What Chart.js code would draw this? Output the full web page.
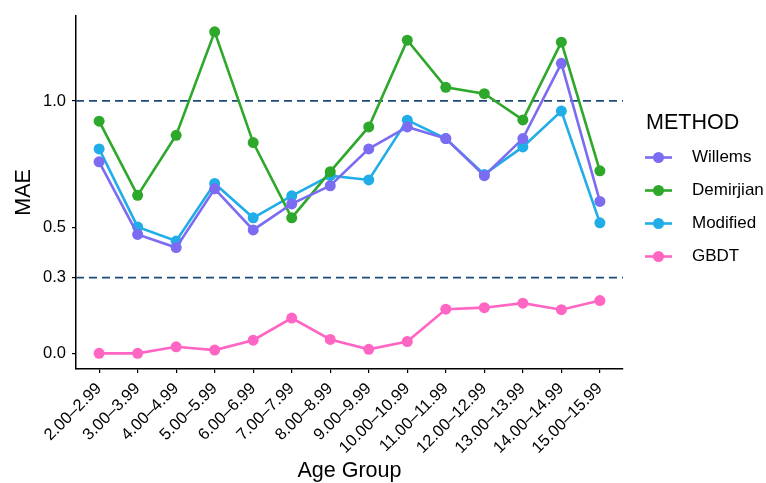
<!DOCTYPE html>
<html>
<head>
<meta charset="utf-8">
<script src="https://cdn.jsdelivr.net/npm/chart.js@4.4.0/dist/chart.umd.min.js"></script>
<style>
html,body{margin:0;padding:0;background:#fff;}
#wrap{width:766px;height:483px;}
</style>
</head>
<body>
<div id="wrap"><canvas id="c" width="766" height="483"></canvas></div>
<script>
const categories = ["2.00–2.99","3.00–3.99","4.00–4.99","5.00–5.99","6.00–6.99","7.00–7.99","8.00–8.99","9.00–9.99","10.00–10.99","11.00–11.99","12.00–12.99","13.00–13.99","14.00–14.99","15.00–15.99"];
const willems   = [0.759,0.471,0.419,0.652,0.489,0.592,0.664,0.810,0.897,0.851,0.704,0.851,1.149,0.602];
const demirjian = [0.920,0.626,0.864,1.274,0.835,0.537,0.720,0.897,1.241,1.054,1.029,0.925,1.233,0.723];
const modified  = [0.810,0.501,0.445,0.673,0.537,0.624,0.704,0.687,0.924,0.851,0.709,0.818,0.960,0.517];
const gbdt      = [0.000,0.000,0.026,0.013,0.052,0.140,0.055,0.016,0.047,0.175,0.181,0.199,0.173,0.209];
const yTicks = [0.0, 0.3, 0.5, 1.0];
const refLines = [0.3, 1.0];
const seriesNames = ["Willems","Demirjian","Modified","GBDT"];
const seriesColors = ["#7B6CF2","#2EA82A","#20ADE8","#FF66C4"];
const legendTitle = "METHOD";

const FONT = "'Liberation Sans', Arial, Helvetica, sans-serif";
const allSeries = [willems, demirjian, modified, gbdt];

const datasets = allSeries.map((vals, i) => ({
  label: seriesNames[i],
  data: vals.map((v, j) => ({x: j, y: v})),
  borderColor: seriesColors[i],
  backgroundColor: seriesColors[i],
  pointBackgroundColor: seriesColors[i],
  pointBorderWidth: 0,
  pointRadius: 5.5,
  borderWidth: 2.6,
  tension: 0,
  order: i
}));

const refLinePlugin = {
  id: 'refLines',
  beforeDatasetsDraw(chart) {
    const {ctx, chartArea, scales} = chart;
    ctx.save();
    ctx.strokeStyle = '#1B4B78';
    ctx.lineWidth = 1.7;
    ctx.setLineDash([8, 5]);
    refLines.forEach(v => {
      const y = scales.y.getPixelForValue(v);
      ctx.beginPath();
      ctx.moveTo(chartArea.left, y);
      ctx.lineTo(chartArea.right, y);
      ctx.stroke();
    });
    ctx.restore();
  }
};

const legendPlugin = {
  id: 'customLegend',
  afterDraw(chart) {
    const ctx = chart.ctx;
    ctx.save();
    ctx.fillStyle = '#000';
    ctx.textBaseline = 'middle';
    ctx.textAlign = 'left';
    ctx.font = "21.5px " + FONT;
    ctx.fillText(legendTitle, 646, 123);
    ctx.font = "17px " + FONT;
    seriesNames.forEach((name, i) => {
      const y = 157.5 + i * 33;
      ctx.strokeStyle = seriesColors[i];
      ctx.lineWidth = 2.6;
      ctx.beginPath();
      ctx.moveTo(645, y);
      ctx.lineTo(672, y);
      ctx.stroke();
      ctx.fillStyle = seriesColors[i];
      ctx.beginPath();
      ctx.arc(658.5, y, 5.5, 0, Math.PI * 2);
      ctx.fill();
      ctx.fillStyle = '#000';
      ctx.fillText(name, 692, y);
    });
    ctx.restore();
  }
};

new Chart(document.getElementById('c'), {
  type: 'line',
  data: { datasets },
  options: {
    responsive: false,
    animation: false,
    devicePixelRatio: 1,
    layout: { padding: { left: 0, top: 13, right: 143, bottom: 0 } },
    plugins: { legend: { display: false }, tooltip: { enabled: false } },
    scales: {
      x: {
        type: 'linear',
        min: -0.6,
        max: 13.6,
        afterBuildTicks(scale) { scale.ticks = categories.map((c, i) => ({value: i})); },
        afterFit(scale) { scale.height = 114; },
        ticks: {
          autoSkip: false,
          minRotation: 45,
          maxRotation: 45,
          color: '#000',
          padding: 6,
          font: { family: FONT, size: 16.5 },
          callback: (v) => categories[v]
        },
        grid: { display: true, drawOnChartArea: false, drawTicks: true, tickLength: 4, color: '#000', lineWidth: 1.2 },
        border: { display: true, color: '#000', width: 1.5 },
        title: { display: true, text: 'Age Group', color: '#000', font: { family: FONT, size: 21.5 }, padding: { top: 0, bottom: -1 } }
      },
      y: {
        type: 'linear',
        min: -0.062,
        max: 1.337,
        afterBuildTicks(scale) { scale.ticks = yTicks.map(v => ({value: v})); },
        afterFit(scale) { scale.width = 76; },
        ticks: {
          color: '#000',
          padding: 6,
          font: { family: FONT, size: 16.5 },
          callback: (v) => Number(v).toFixed(1)
        },
        grid: { display: true, drawOnChartArea: false, drawTicks: true, tickLength: 4, color: '#000', lineWidth: 1.2 },
        border: { display: true, color: '#000', width: 1.5 },
        title: { display: true, text: 'MAE', color: '#000', font: { family: FONT, size: 21.5 }, padding: { top: 11, bottom: 0 } }
      }
    }
  },
  plugins: [refLinePlugin, legendPlugin]
});
</script>
</body>
</html>
